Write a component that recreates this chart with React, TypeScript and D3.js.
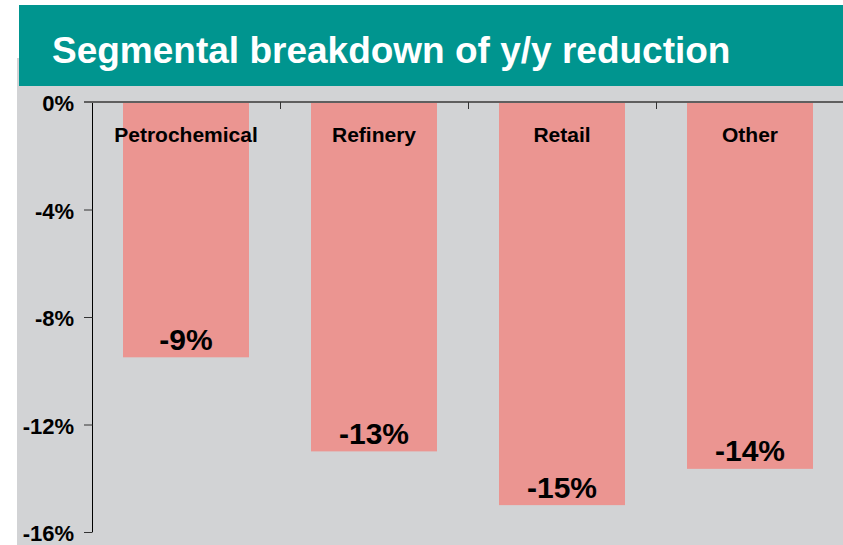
import React from "react";
import * as d3 from "d3";

const categories = ["Petrochemical", "Refinery", "Retail", "Other"];
const values = [-9.5, -13, -15, -13.65];
const valueLabels = ["-9%", "-13%", "-15%", "-14%"];
const yTicks = [0, -4, -8, -12, -16];
const title = "Segmental breakdown of y/y reduction";

const W = 843;
const H = 545;
const FONT = "'Liberation Sans', Arial, Helvetica, sans-serif";

export default function App() {
  const x = d3.scaleBand<string>().domain(categories).range([92, 844]).paddingInner(0).paddingOuter(0);
  const barW = 126;
  const y = d3.scaleLinear().domain([0, -16]).range([102, 532]);

  return (
    <svg
      width={W}
      height={H}
      style={{ position: "absolute", left: 0, top: 0, display: "block" }}
      fontFamily={FONT}
    >
      <rect x={0} y={0} width={W} height={H} fill="#ffffff" />
      <rect x={17} y={58} width={W - 17} height={H - 58} fill="#d2d3d5" />
      <rect x={19} y={5} width={W - 19} height={81} fill="#00958f" />
      <text x={52} y={63} fill="#ffffff" fontSize={37} fontWeight="bold">
        {title}
      </text>

      {categories.map((c, i) => {
        const cx = (x(c) as number) + x.bandwidth() / 2;
        const yb = y(values[i]);
        return (
          <g key={c}>
            <rect x={cx - barW / 2} y={y(0)} width={barW} height={yb - y(0)} fill="#eb9591" />
            <text x={cx} y={141.5} textAnchor="middle" fontSize={21} fontWeight="bold" fill="#000">
              {c}
            </text>
            <text x={cx} y={yb - 7.5} textAnchor="middle" fontSize={30} fontWeight="bold" fill="#000">
              {valueLabels[i]}
            </text>
          </g>
        );
      })}

      {/* left axis */}
      <line x1={92.5} x2={92.5} y1={y(0)} y2={y(-16)} stroke="#000" strokeWidth={1} />
      {yTicks.map((t) => (
        <g key={t}>
          <line x1={84} x2={92.5} y1={y(t) + 0.5} y2={y(t) + 0.5} stroke="#333" strokeWidth={1} />
          <text x={74} y={y(t) + 9} textAnchor="end" fontSize={22} fontWeight="bold" fill="#000">
            {t === 0 ? "0%" : `${t}%`}
          </text>
        </g>
      ))}

      {/* top (category) axis */}
      <line x1={84} x2={W} y1={y(0)} y2={y(0)} stroke="#5f5f5f" strokeWidth={2} />
      {categories.slice(1).map((c) => (
        <line key={c} x1={(x(c) as number) + 0.5} x2={(x(c) as number) + 0.5} y1={y(0)} y2={y(0) + 7} stroke="#333" strokeWidth={1} />
      ))}
    </svg>
  );
}
